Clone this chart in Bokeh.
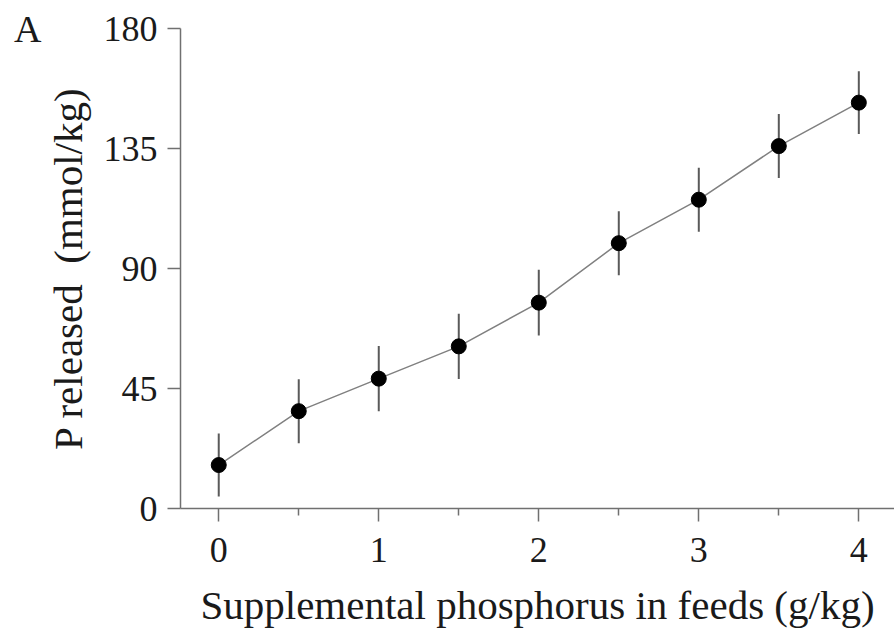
from bokeh.plotting import figure
from bokeh.models import FixedTicker, ColumnDataSource, Range1d, LinearAxis
from bokeh.embed import file_html
from bokeh.resources import INLINE

# ---- data ----
phosphorus = [0, 0.5, 1, 1.5, 2, 2.5, 3, 3.5, 4]
p_released = [16.3, 36.5, 48.7, 60.8, 77.2, 99.5, 115.8, 135.9, 152.2]
p_error = [11.8, 12.0, 12.2, 12.2, 12.3, 12.0, 12.0, 12.0, 11.8]
x_ticks = [0, 1, 2, 3, 4]
x_minor_ticks = [0.5, 1.5, 2.5, 3.5]
y_ticks = [0, 45, 90, 135, 180]
x_label = "Supplemental phosphorus in feeds (g/kg)"
y_label = "P released\u00a0 (mmol/kg)"
panel_label = "A"

FONT = "Liberation Serif"
TEXT = "#1a1a1a"
AXIS = "#707070"

src = ColumnDataSource(dict(
    x=phosphorus,
    y=p_released,
    lo=[v - e for v, e in zip(p_released, p_error)],
    hi=[v + e for v, e in zip(p_released, p_error)],
))

p = figure(width=894, height=633, output_backend="svg", toolbar_location=None,
           x_range=Range1d(-0.239, 4.223), y_range=Range1d(0, 180),
           x_axis_type=None, y_axis_type=None,
           min_border_left=180, min_border_top=28, min_border_right=0,
           min_border_bottom=125)
p.outline_line_color = None
p.grid.visible = False
p.background_fill_color = "white"
p.border_fill_color = "white"

xaxis = LinearAxis(ticker=FixedTicker(ticks=x_ticks, minor_ticks=x_minor_ticks))
yaxis = LinearAxis(ticker=FixedTicker(ticks=y_ticks))
for ax in (xaxis, yaxis):
    ax.axis_line_color = AXIS
    ax.axis_line_width = 1.5
    ax.major_tick_line_color = AXIS
    ax.major_tick_line_width = 1.5
    ax.minor_tick_line_color = AXIS
    ax.minor_tick_line_width = 1.5
    ax.major_tick_in = 0
    ax.minor_tick_in = 0
    ax.major_label_text_font = FONT
    ax.major_label_text_font_size = "36px"
    ax.major_label_text_color = TEXT
    ax.axis_label_text_font = FONT
    ax.axis_label_text_font_size = "41px"
    ax.axis_label_text_font_style = "normal"
    ax.axis_label_text_color = TEXT

xaxis.major_tick_out = 13
xaxis.minor_tick_out = 7
xaxis.major_label_standoff = 16
xaxis.axis_label = x_label
xaxis.axis_label_standoff = 17

yaxis.major_tick_out = 13
yaxis.minor_tick_out = 0
yaxis.major_label_standoff = 10
yaxis.axis_label = y_label
yaxis.axis_label_standoff = 10

# outer left "axis" that only carries the panel letter at the top of the y scale
panel_axis = LinearAxis(ticker=FixedTicker(ticks=[y_ticks[-1]], minor_ticks=[]),
                        major_label_overrides={y_ticks[-1]: panel_label})
panel_axis.axis_line_color = None
panel_axis.major_tick_line_color = None
panel_axis.minor_tick_line_color = None
panel_axis.major_tick_in = 0
panel_axis.major_tick_out = 0
panel_axis.minor_tick_out = 0
panel_axis.major_label_standoff = 0
panel_axis.major_label_text_font = FONT
panel_axis.major_label_text_font_size = "38px"
panel_axis.major_label_text_color = TEXT

p.add_layout(xaxis, "below")
p.add_layout(yaxis, "left")
p.add_layout(panel_axis, "left")

p.segment(x0="x", y0="lo", x1="x", y1="hi", source=src, line_color="#5a5a5a", line_width=2)
p.line(x="x", y="y", source=src, line_color="#808080", line_width=1.5)
p.scatter(x="x", y="y", source=src, size=15, marker="circle",
          fill_color="black", line_color="black")

open("out.html", "w").write(file_html(p, INLINE))
